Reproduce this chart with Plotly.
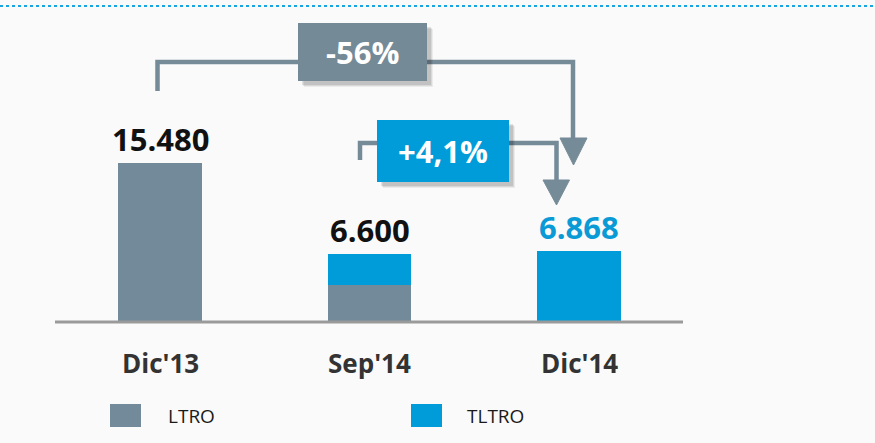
import plotly.graph_objects as go

# ---- data ----
categories = ["Dic'13", "Sep'14", "Dic'14"]
series_names = ["LTRO", "TLTRO"]
ltro = [15480, 3600, 0]
tltro = [0, 3000, 6868]

# ---- styles ----
W, H = 875, 443
GRAY = "#738a9a"
BLUE = "#009bd9"
LINE_GRAY = "#768b98"
FONT = "Open Sans"
label_colors = ["#111111", "#111111", "#0a9ad6"]

totals = [a + b for a, b in zip(ltro, tltro)]


def fmt_es(v):
    return f"{v:,}".replace(",", ".")


def px(x, y):
    return x / W, 1 - y / H


fig = go.Figure()
fig.add_trace(go.Bar(x=categories, y=ltro, name=series_names[0], marker=dict(color=GRAY, line=dict(width=0)),
                     width=0.40, showlegend=False, hoverinfo="skip"))
fig.add_trace(go.Bar(x=categories, y=tltro, name=series_names[1], marker=dict(color=BLUE, line=dict(width=0)),
                     width=0.40, showlegend=False, hoverinfo="skip"))

annotations = []
shapes = []

# value labels
for c, t, col in zip(categories, totals, label_colors):
    annotations.append(dict(x=c, y=t, xref="x", yref="y", text=f"<b>{fmt_es(t)}</b>", showarrow=False,
                            yanchor="middle", yshift=24, font=dict(family=FONT, size=31, color=col)))
# category labels
for c in categories:
    annotations.append(dict(x=c, y=0, xref="x", yref="y", text=f"<b>{c}</b>", showarrow=False,
                            yanchor="middle", yshift=-41, font=dict(family=FONT, size=26, color="#333333")))

# baseline
x0, _ = px(55, 0)
x1, _ = px(683, 0)
shapes.append(dict(type="line", xref="paper", yref="y", x0=x0, x1=x1, y0=0, y1=0,
                   line=dict(color="#9a9a9a", width=3), layer="above"))

# top dotted line
_, yt = px(0, 6)
shapes.append(dict(type="line", xref="paper", yref="paper", x0=0, x1=1, y0=yt, y1=yt,
                   line=dict(color="#18a6e0", width=2, dash="dot")))


def path_px(points, close=False):
    s = ""
    for i, (x, y) in enumerate(points):
        xp, yp = px(x, y)
        s += ("M" if i == 0 else "L") + f"{xp:.5f},{yp:.5f} "
    if close:
        s += "Z"
    return s


# connector 1 (Dic'13 -> Dic'14)
shapes.append(dict(type="path", xref="paper", yref="paper",
                   path=path_px([(157.5, 91), (157.5, 62), (573, 62), (573, 141)]),
                   line=dict(color=LINE_GRAY, width=4.5)))
shapes.append(dict(type="path", xref="paper", yref="paper",
                   path=path_px([(560, 138), (587, 138), (573.5, 165)], close=True),
                   fillcolor=LINE_GRAY, line=dict(color=LINE_GRAY, width=1)))
# connector 2 (Sep'14 -> Dic'14)
shapes.append(dict(type="path", xref="paper", yref="paper",
                   path=path_px([(360, 160), (360, 143), (556.5, 143), (556.5, 182)]),
                   line=dict(color=LINE_GRAY, width=4.5)))
shapes.append(dict(type="path", xref="paper", yref="paper",
                   path=path_px([(543, 180), (569.5, 180), (556.5, 205)], close=True),
                   fillcolor=LINE_GRAY, line=dict(color=LINE_GRAY, width=1)))


def box(xa, ya, xb, yb, color, text):
    # soft shadow
    for off, op in [(6, 0.06), (5, 0.08), (4, 0.10)]:
        p0 = px(xa + off, ya + off)
        p1 = px(xb + off, yb + off)
        shapes.append(dict(type="rect", xref="paper", yref="paper", x0=p0[0], x1=p1[0], y0=p1[1], y1=p0[1],
                           fillcolor=f"rgba(0,0,0,{op})", line=dict(width=0)))
    p0 = px(xa, ya)
    p1 = px(xb, yb)
    shapes.append(dict(type="rect", xref="paper", yref="paper", x0=p0[0], x1=p1[0], y0=p1[1], y1=p0[1],
                       fillcolor=color, line=dict(width=0)))
    cx, cy = px((xa + xb) / 2, (ya + yb) / 2)
    annotations.append(dict(x=cx, y=cy, xref="paper", yref="paper", text=f"<b>{text}</b>", showarrow=False,
                            xanchor="center", yanchor="middle", font=dict(family=FONT, size=31, color="white")))


chg1 = round((totals[2] - totals[0]) / totals[0] * 100)
chg2 = (totals[2] - totals[1]) / totals[1] * 100
box(298, 23, 427, 81, "#758a97", f"{chg1:+d}%")
box(377, 120, 509, 182, BLUE, f"{chg2:+.1f}%".replace(".", ","))

# manual legend
for name, col, sx, tx in [(series_names[0], GRAY, 110, 166), (series_names[1], BLUE, 411, 465)]:
    p0 = px(sx, 404)
    p1 = px(sx + 31, 427)
    shapes.append(dict(type="rect", xref="paper", yref="paper", x0=p0[0], x1=p1[0], y0=p1[1], y1=p0[1],
                       fillcolor=col, line=dict(width=0)))
    tp = px(tx, 416)
    annotations.append(dict(x=tp[0], y=tp[1], xref="paper", yref="paper", text=name, showarrow=False,
                            xanchor="left", yanchor="middle", font=dict(family=FONT, size=19, color="#1a1a1a")))

# axis ranges mapping pixels: category i at 160 + i*209.5 px; value 0 at y=322, 97.36 per px
step = 209.5
xr = [-160 / step, (W - 160) / step]
vpp = 15480 / 159
yr = [-(H - 322) * vpp, 322 * vpp]

fig.update_layout(
    width=W, height=H, margin=dict(l=0, r=0, t=0, b=0),
    barmode="stack", bargap=0,
    paper_bgcolor="#fafafa", plot_bgcolor="#fafafa",
    xaxis=dict(visible=False, range=xr, type="category", fixedrange=True),
    yaxis=dict(visible=False, range=yr, fixedrange=True),
    shapes=shapes, annotations=annotations,
    font=dict(family=FONT),
    hovermode=False,
)

fig.write_html("out.html", config={"displayModeBar": False, "staticPlot": True},
               post_script="document.body.style.margin='0';document.body.style.overflow='hidden';document.body.style.background='#fafafa';")
